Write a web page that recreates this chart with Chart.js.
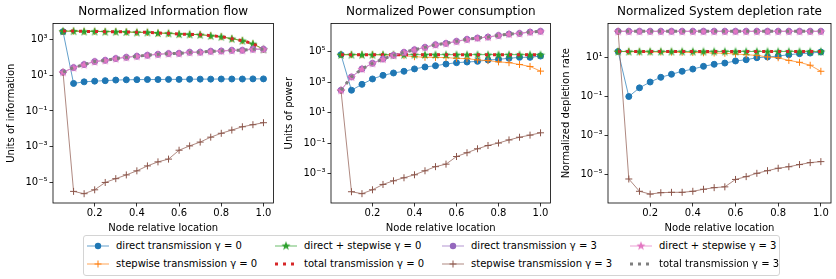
<!DOCTYPE html>
<html>
<head>
<meta charset="utf-8">
<script src="https://cdn.jsdelivr.net/npm/chart.js@4.4.1/dist/chart.umd.min.js"></script>
<style>
  body { margin: 0; background: #fff; width: 836px; height: 279px; overflow: hidden; position: relative;
         font-family: 'DejaVu Sans', sans-serif; }
  canvas.plot { position: absolute; top: 0; }
  #legend-box { position: absolute; left: 83px; top: 235px; width: 697px; height: 41px; box-sizing: border-box;
                border: 1px solid #d4d4d4; border-radius: 3px; background: #fff; }
  .handle { position: absolute; }
  .ltext { position: absolute; font-size: 10px; line-height: 14px; color: #000; white-space: nowrap; }
</style>
</head>
<body>
<canvas id="info-chart" class="plot" width="278" height="236" style="left:0px"></canvas>
<canvas id="power-chart" class="plot" width="277" height="236" style="left:278px"></canvas>
<canvas id="depl-chart" class="plot" width="281" height="236" style="left:555px"></canvas>
<div id="legend-box"></div>

<script>
// node positions (x axis)
const xs = [0.05, 0.10, 0.15, 0.20, 0.25, 0.30, 0.35, 0.40, 0.45, 0.50,
            0.55, 0.60, 0.65, 0.70, 0.75, 0.80, 0.85, 0.90, 0.95, 1.00];

// Normalized Information flow
const infoDirect0 = [2800, 3.5, 4.3, 4.7, 5.0, 5.4, 5.6, 5.7, 5.8, 5.8, 5.9, 5.9, 6.0, 6.1, 6.1, 6.2, 6.2, 6.2, 6.3, 6.3];
const infoStep0   = [2900, 2990, 2890, 2890, 2790, 2790, 2670, 2550, 2550, 2330, 2240, 2040, 1970, 1890, 1650, 1450, 1120, 870, 580, 280];
const infoBoth0   = [3000, 3000, 2900, 2900, 2800, 2800, 2680, 2560, 2560, 2340, 2250, 2050, 1980, 1900, 1660, 1460, 1130, 880, 590, 290];
const infoTotal0  = [3000, 3000, 2900, 2900, 2800, 2800, 2680, 2560, 2560, 2340, 2250, 2050, 1980, 1900, 1660, 1460, 1130, 880, 590, 290];
const infoDirect3 = [15, 27, 40, 59, 69, 87, 102, 117, 133, 150, 165, 170, 195, 198, 222, 230, 250, 252, 290, 290];
const infoStep3   = [15, 3.1e-6, 2.3e-6, 3.8e-6, 9.8e-6, 1.6e-5, 2.6e-5, 4.4e-5, 8.3e-5, 1.4e-4, 2.0e-4, 6.3e-4, 1.1e-3, 1.8e-3, 3.4e-3, 5.6e-3, 8.5e-3, 1.3e-2, 1.7e-2, 2.2e-2];
const infoBoth3   = [15, 27, 40, 59, 69, 87, 102, 117, 133, 150, 165, 170, 195, 198, 222, 230, 250, 252, 290, 290];
const infoTotal3  = [15, 27, 40, 59, 69, 87, 102, 117, 133, 150, 165, 170, 195, 198, 222, 230, 250, 252, 290, 290];

// Normalized Power consumption
const powerDirect0 = [64000, 295, 720, 1620, 2800, 4000, 5200, 7400, 10000, 12000, 15500, 19000, 21000, 23300, 28600, 31600, 37000, 42700, 42700, 52000];
const powerStep0   = [64000, 63500, 63000, 62500, 62000, 60000, 55000, 47000, 43000, 42000, 41000, 37000, 35000, 29000, 26000, 21500, 19000, 14500, 10700, 5300];
const powerBoth0   = [64000, 64000, 64000, 64000, 64000, 64000, 64000, 64000, 64000, 64000, 64000, 64000, 64000, 64000, 64000, 64000, 64000, 64000, 64000, 64000];
const powerTotal0  = [64000, 64000, 64000, 64000, 64000, 64000, 64000, 64000, 64000, 64000, 64000, 64000, 64000, 64000, 64000, 64000, 64000, 64000, 64000, 64000];
const powerDirect3 = [295, 2200, 7400, 17300, 33000, 58000, 91000, 135000, 194000, 290000, 354000, 480000, 650000, 790000, 920000, 1180000, 1450000, 1600000, 1950000, 2200000];
const powerStep3   = [295, 6.3e-5, 4.7e-5, 8.5e-5, 1.9e-4, 3.3e-4, 5.2e-4, 8.2e-4, 1.5e-3, 2.8e-3, 4.1e-3, 1.3e-2, 2.3e-2, 4.2e-2, 6.9e-2, 0.10, 0.16, 0.24, 0.33, 0.47];
const powerBoth3   = [295, 2200, 7400, 17300, 33000, 58000, 91000, 135000, 194000, 290000, 354000, 480000, 650000, 790000, 920000, 1180000, 1450000, 1600000, 1950000, 2200000];
const powerTotal3  = [295, 2200, 7400, 17300, 33000, 58000, 91000, 135000, 194000, 290000, 354000, 480000, 650000, 790000, 920000, 1180000, 1450000, 1600000, 1950000, 2200000];

// Normalized System depletion rate
const deplDirect0 = [21, 0.10, 0.28, 0.56, 0.98, 1.4, 2.0, 2.6, 3.6, 4.6, 5.3, 6.8, 7.9, 10, 10.9, 12.2, 14.3, 16.1, 17.4, 19.6];
const deplStep0   = [21, 20.5, 20, 19.8, 19.6, 19.4, 19, 18.5, 18, 17.5, 17, 15.5, 14.3, 13.2, 11, 10, 7.3, 5.8, 4.1, 2.0];
const deplBoth0   = [21, 21, 21, 21, 21, 21, 21, 21, 21, 21, 21, 21, 21, 21, 21, 21, 21, 21, 21, 21];
const deplTotal0  = [21, 21, 21, 21, 21, 21, 21, 21, 21, 21, 21, 21, 21, 21, 21, 21, 21, 21, 21, 21];
const deplDirect3 = [230, 230, 230, 230, 230, 230, 230, 230, 230, 230, 230, 230, 230, 230, 230, 230, 230, 230, 230, 230];
const deplStep3   = [230, 5.6e-6, 1.3e-6, 9.3e-7, 1.1e-6, 1.15e-6, 1.15e-6, 1.3e-6, 1.65e-6, 2.0e-6, 2.2e-6, 5.3e-6, 7.4e-6, 1.1e-5, 1.5e-5, 2.0e-5, 2.4e-5, 3.1e-5, 3.9e-5, 4.4e-5];
const deplBoth3   = [230, 230, 230, 230, 230, 230, 230, 230, 230, 230, 230, 230, 230, 230, 230, 230, 230, 230, 230, 230];
const deplTotal3  = [230, 230, 230, 230, 230, 230, 230, 230, 230, 230, 230, 230, 230, 230, 230, 230, 230, 230, 230, 230];

const seriesLabels = ['direct transmission γ = 0', 'stepwise transmission γ = 0', 'direct + stepwise γ = 0', 'total transmission γ = 0',
                      'direct transmission γ = 3', 'stepwise transmission γ = 3', 'direct + stepwise γ = 3', 'total transmission γ = 3'];
const seriesColors = ['#1f77b4', '#ff7f0e', '#2ca02c', '#d62728', '#9467bd', '#8c564b', '#e377c2', '#7f7f7f'];
const seriesMarkers = ['circle', 'cross', 'star', 'dots', 'circle', 'cross', 'star', 'dots'];

const xTicks = [0.2, 0.4, 0.6, 0.8, 1.0];
const xTickLabels = ['0.2', '0.4', '0.6', '0.8', '1.0'];

const infoYTicks = [1e-5, 1e-3, 1e-1, 1e1, 1e3];
const infoYTickLabels = ['10⁻⁵', '10⁻³', '10⁻¹', '10¹', '10³'];
const powerYTicks = [1e-3, 1e-1, 1e1, 1e3, 1e5];
const powerYTickLabels = ['10⁻³', '10⁻¹', '10¹', '10³', '10⁵'];
const deplYTicks = [1e-5, 1e-3, 1e-1, 1e1];
const deplYTickLabels = ['10⁻⁵', '10⁻³', '10⁻¹', '10¹'];

// axis limits as powers of ten
const infoYRange = [-6.16, 3.91];
const powerYRange = [-4.94, 6.86];
const deplYRange = [-6.49, 2.77];

Chart.defaults.font.family = "'DejaVu Sans', sans-serif";
Chart.defaults.color = '#000';

// filled 5-point star, like matplotlib's '*'
function starImage(color) {
  const c = document.createElement('canvas');
  c.width = 10; c.height = 10;
  const g = c.getContext('2d');
  g.fillStyle = color;
  g.beginPath();
  for (let i = 0; i < 10; i++) {
    const r = i % 2 ? 1.9 : 4.8;
    const a = -Math.PI / 2 + i * Math.PI / 5;
    const px = 5 + r * Math.cos(a), py = 5.4 + r * Math.sin(a);
    if (i) g.lineTo(px, py); else g.moveTo(px, py);
  }
  g.closePath();
  g.fill();
  return c;
}

function makeDataset(i, values) {
  const color = seriesColors[i];
  const marker = seriesMarkers[i];
  const ds = {
    label: seriesLabels[i],
    data: xs.map((x, k) => ({ x: x, y: values[k] })),
    borderColor: color,
    backgroundColor: color,
    pointBackgroundColor: color,
    pointBorderColor: color,
    borderWidth: 0.7,
    pointRadius: 3,
    pointBorderWidth: 1,
    pointHoverRadius: 3,
    order: 8 - i // later series on top, as in the original
  };
  if (marker === 'dots') {
    ds.borderWidth = 3;
    ds.borderDash = [3, 5];
    ds.borderCapStyle = 'butt';
    ds.pointRadius = 0;
  } else if (marker === 'cross') {
    ds.pointStyle = 'cross';
    ds.pointRadius = 3.5;
  } else if (marker === 'star') {
    ds.pointStyle = starImage(color);
  } else {
    ds.pointStyle = 'circle';
  }
  return ds;
}

// box around the plot area
const framePlugin = {
  id: 'frame',
  afterDatasetsDraw(chart) {
    const { ctx, chartArea: a } = chart;
    ctx.save();
    ctx.strokeStyle = '#000';
    ctx.lineWidth = 0.8;
    ctx.strokeRect(a.left, a.top, a.right - a.left, a.bottom - a.top);
    ctx.restore();
  }
};

function makeChart(id, title, yLabel, series, yRange, yTicks, yTickLabels, padRight) {
  return new Chart(document.getElementById(id), {
    type: 'line',
    data: { datasets: series.map((v, i) => makeDataset(i, v)) },
    options: {
      responsive: false,
      animation: false,
      devicePixelRatio: 1,
      layout: { padding: { left: 0, right: padRight, top: 0, bottom: 0 } },
      plugins: {
        legend: { display: false },
        tooltip: { enabled: false },
        title: {
          display: true, text: title, fullSize: false, color: '#000',
          font: { size: 12, weight: 'normal' }, padding: { top: 5, bottom: 4 }
        }
      },
      scales: {
        x: {
          type: 'linear', min: 0.0025, max: 1.0475, bounds: 'data',
          afterBuildTicks: s => { s.ticks = xTicks.map(v => ({ value: v })); },
          afterFit: s => { s.height = 33; },
          ticks: { color: '#000', font: { size: 10 }, padding: 1, maxRotation: 0, autoSkip: false,
                   callback: (v, i) => xTickLabels[i] },
          grid: { drawOnChartArea: false, tickLength: 3.5, color: '#000', lineWidth: 0.8 },
          border: { display: false },
          title: { display: true, text: 'Node relative location', color: '#000',
                   font: { size: 10 }, padding: { top: 0, bottom: 2 } }
        },
        y: {
          type: 'logarithmic', min: Math.pow(10, yRange[0]), max: Math.pow(10, yRange[1]), bounds: 'data',
          afterBuildTicks: s => { s.ticks = yTicks.map(v => ({ value: v })); },
          afterFit: s => { s.width = 53; },
          ticks: { color: '#000', font: { size: 10 }, padding: 2, autoSkip: false,
                   callback: (v, i) => yTickLabels[i] },
          grid: { drawOnChartArea: false, tickLength: 3.5, color: '#000', lineWidth: 0.8 },
          border: { display: false },
          title: { display: true, text: yLabel, color: '#000',
                   font: { size: 10 }, padding: { top: 5.5, bottom: 0 } }
        }
      }
    },
    plugins: [framePlugin]
  });
}

makeChart('info-chart', 'Normalized Information flow', 'Units of information',
  [infoDirect0, infoStep0, infoBoth0, infoTotal0, infoDirect3, infoStep3, infoBoth3, infoTotal3],
  infoYRange, infoYTicks, infoYTickLabels, 3);
makeChart('power-chart', 'Normalized Power consumption', 'Units of power',
  [powerDirect0, powerStep0, powerBoth0, powerTotal0, powerDirect3, powerStep3, powerBoth3, powerTotal3],
  powerYRange, powerYTicks, powerYTickLabels, 2);
makeChart('depl-chart', 'Normalized System depletion rate', 'Normalized depletion rate',
  [deplDirect0, deplStep0, deplBoth0, deplTotal0, deplDirect3, deplStep3, deplBoth3, deplTotal3],
  deplYRange, deplYTicks, deplYTickLabels, 5);

// shared legend, 4 columns filled top-down
const handleX = [87, 275, 442, 630];
const textX = [116, 304, 471, 659];
const rowY = [246, 264.3];

function drawHandle(cv, i) {
  const g = cv.getContext('2d');
  const color = seriesColors[i], marker = seriesMarkers[i];
  const w = cv.width, cy = cv.height / 2, cx = w / 2;
  g.strokeStyle = color;
  g.fillStyle = color;
  if (marker === 'dots') {
    for (let k = 0; k < 3; k++) g.fillRect(k * 8, cy - 1.5, 3, 3);
    return;
  }
  g.lineWidth = 0.7;
  g.beginPath(); g.moveTo(0, cy); g.lineTo(w, cy); g.stroke();
  if (marker === 'circle') {
    g.beginPath(); g.arc(cx, cy, 3.2, 0, 2 * Math.PI); g.fill();
  } else if (marker === 'cross') {
    g.lineWidth = 1;
    g.beginPath();
    g.moveTo(cx - 3.5, cy); g.lineTo(cx + 3.5, cy);
    g.moveTo(cx, cy - 3.5); g.lineTo(cx, cy + 3.5);
    g.stroke();
  } else {
    g.drawImage(starImage(color), cx - 5, cy - 5.4);
  }
}

seriesLabels.forEach((label, i) => {
  const col = Math.floor(i / 2), row = i % 2;
  const cv = document.createElement('canvas');
  cv.className = 'handle';
  cv.width = 22; cv.height = 12;
  cv.style.left = handleX[col] + 'px';
  cv.style.top = (rowY[row] - 6) + 'px';
  document.body.appendChild(cv);
  drawHandle(cv, i);

  const t = document.createElement('span');
  t.className = 'ltext';
  t.textContent = label;
  t.style.left = textX[col] + 'px';
  t.style.top = (rowY[row] - 7) + 'px';
  document.body.appendChild(t);
});
</script>
</body>
</html>
